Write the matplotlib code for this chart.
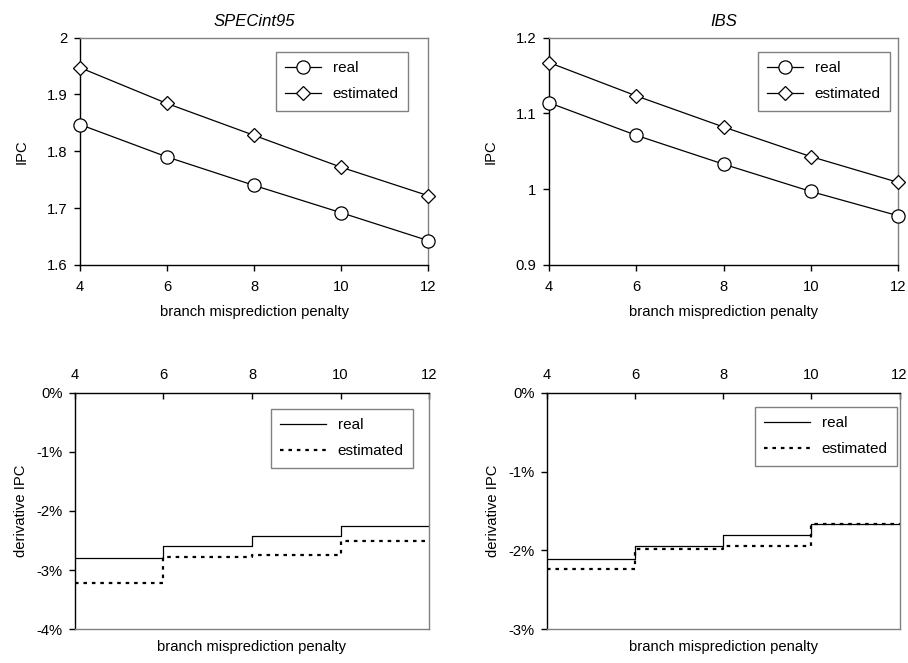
import matplotlib
matplotlib.use("Agg")
import matplotlib.pyplot as plt
from matplotlib.ticker import FuncFormatter

plt.rcParams['font.family'] = ['Liberation Sans', 'DejaVu Sans']
plt.rcParams['axes.unicode_minus'] = False

penalty = [4, 6, 8, 10, 12]

spec_real = [1.847, 1.790, 1.740, 1.692, 1.643]
spec_est = [1.947, 1.884, 1.828, 1.772, 1.722]
ibs_real = [1.114, 1.071, 1.033, 0.997, 0.965]
ibs_est = [1.167, 1.123, 1.082, 1.043, 1.009]

# derivative (%) per interval 4-6, 6-8, 8-10, 10-12
spec_der_real = [-2.80, -2.60, -2.43, -2.25]
spec_der_est = [-3.21, -2.78, -2.75, -2.50]
ibs_der_real = [-2.11, -1.95, -1.81, -1.66]
ibs_der_est = [-2.23, -1.98, -1.94, -1.67]

titles = ["SPECint95", "IBS"]

W, H = 908, 663
fig = plt.figure(figsize=(W / 100, H / 100), dpi=100)


def add_ax(l, r, t, b):
    return fig.add_axes([l / W, 1 - b / H, (r - l) / W, (b - t) / H])


FS = 10.6
GRAY = '#808080'


def style_common(ax):
    for s in ['left', 'bottom', 'top', 'right']:
        ax.spines[s].set_linewidth(1.0)
    ax.tick_params(labelsize=FS, length=4, width=1.0, colors='black')


def top_chart(ax, real, est, ylim, yticks, title, leg_rt):
    ax.plot(penalty, real, color='black', lw=0.9, marker='o', ms=9.5,
            mfc='white', mec='black', mew=0.9, clip_on=False, zorder=3, label='real')
    ax.plot(penalty, est, color='black', lw=0.9, marker='D', ms=7,
            mfc='white', mec='black', mew=0.9, clip_on=False, zorder=3, label='estimated')
    ax.set_xlim(4, 12)
    ax.set_ylim(*ylim)
    ax.set_xticks(penalty)
    ax.set_yticks(yticks)
    ax.set_yticklabels([f"{v:g}" for v in yticks])
    style_common(ax)
    ax.spines['top'].set_color(GRAY)
    ax.spines['right'].set_color(GRAY)
    ax.tick_params(axis='x', direction='out', pad=7)
    ax.tick_params(axis='y', direction='out', pad=5)
    ax.set_xlabel('branch misprediction penalty', fontsize=FS, labelpad=8)
    ax.set_ylabel('IPC', fontsize=FS, labelpad=13)
    ax.set_title(title, fontsize=12, style='italic', pad=8)
    leg = ax.legend(loc='upper right', bbox_to_anchor=(leg_rt[0] / W, 1 - leg_rt[1] / H),
                    bbox_transform=fig.transFigure, borderaxespad=0, fancybox=False,
                    edgecolor=GRAY, fontsize=11, handlelength=2.3, labelspacing=0.8,
                    borderpad=0.6, framealpha=1)
    leg.get_frame().set_linewidth(1.0)


def bottom_chart(ax, real, est, ylim, yticks, leg_rt):
    ax.step(penalty, real + [real[-1]], where='post', color='black', lw=0.9, label='real')
    ax.step(penalty, est + [est[-1]], where='post', color='black', lw=1.6,
            linestyle=(0, (1.6, 2.2)), label='estimated')
    ax.set_xlim(4, 12)
    ax.set_ylim(*ylim)
    ax.set_xticks(penalty)
    ax.set_yticks(yticks)
    ax.yaxis.set_major_formatter(FuncFormatter(lambda v, p: f"{v:.0f}%"))
    style_common(ax)
    ax.spines['right'].set_color(GRAY)
    ax.spines['bottom'].set_color(GRAY)
    ax.xaxis.tick_top()
    ax.xaxis.set_label_position('bottom')
    ax.tick_params(axis='x', direction='in', pad=8)
    ax.tick_params(axis='y', direction='out', pad=5)
    ax.set_xlabel('branch misprediction penalty', fontsize=FS, labelpad=8)
    ax.set_ylabel('derivative IPC', fontsize=FS, labelpad=6)
    leg = ax.legend(loc='upper right', bbox_to_anchor=(leg_rt[0] / W, 1 - leg_rt[1] / H),
                    bbox_transform=fig.transFigure, borderaxespad=0, fancybox=False,
                    edgecolor=GRAY, fontsize=11, handlelength=3.0, labelspacing=0.8,
                    borderpad=0.6, framealpha=1)
    leg.get_frame().set_linewidth(1.0)


ax1 = add_ax(80, 428, 37.5, 265)
top_chart(ax1, spec_real, spec_est, (1.6, 2.0), [1.6, 1.7, 1.8, 1.9, 2.0], titles[0], (408, 52))

ax2 = add_ax(549, 898, 37.5, 265)
top_chart(ax2, ibs_real, ibs_est, (0.9, 1.2), [0.9, 1.0, 1.1, 1.2], titles[1], (890, 52))

ax3 = add_ax(75, 429, 392.7, 629.3)
bottom_chart(ax3, spec_der_real, spec_der_est, (-4, 0), [-4, -3, -2, -1, 0], (413, 409))

ax4 = add_ax(547, 899.5, 392.7, 629.3)
bottom_chart(ax4, ibs_der_real, ibs_der_est, (-3, 0), [-3, -2, -1, 0], (897, 407))

fig.savefig('out.png', dpi=100)
